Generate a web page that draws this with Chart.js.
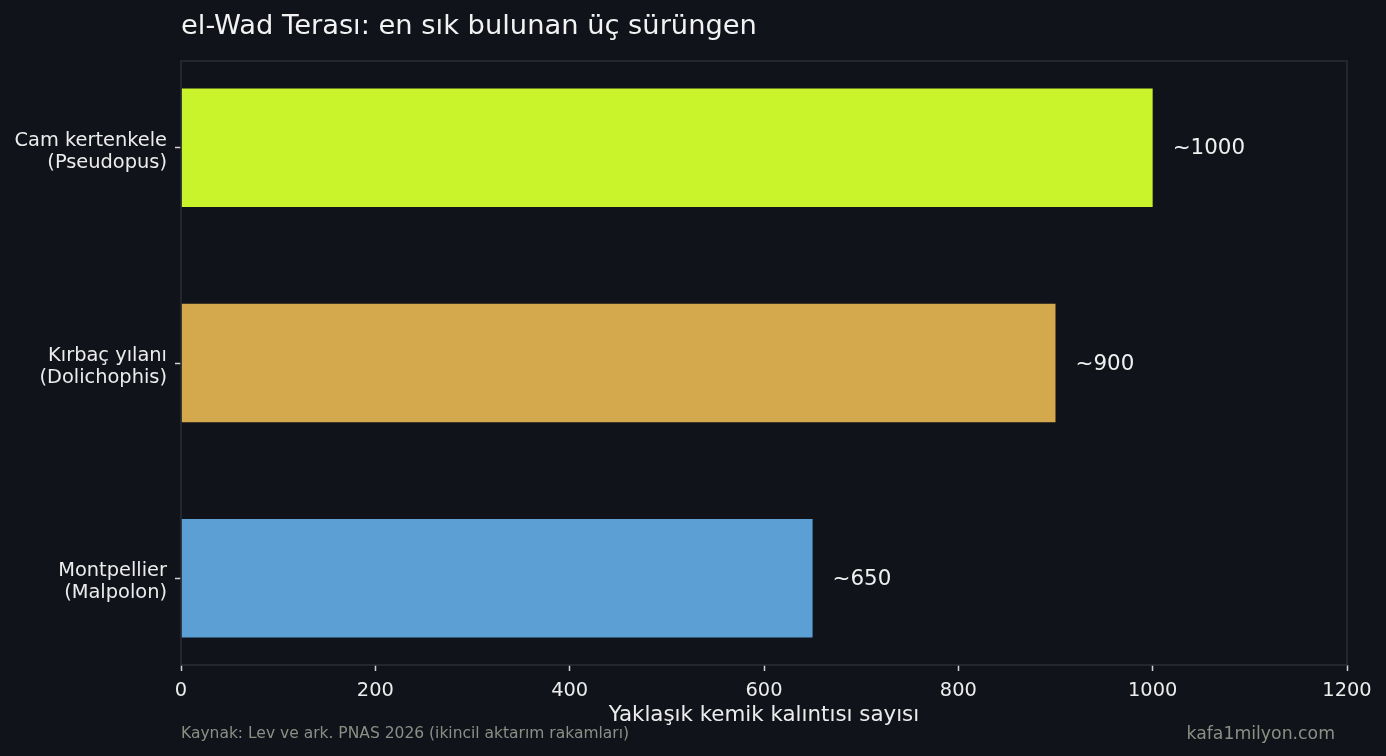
<!DOCTYPE html>
<html>
<head>
<meta charset="utf-8">
<script src="https://cdn.jsdelivr.net/npm/chart.js@4.4.1/dist/chart.umd.min.js"></script>
<style>
  html, body { margin: 0; padding: 0; background: #10131a; }
  canvas { display: block; }
</style>
</head>
<body>
<canvas id="chart" width="1386" height="756"></canvas>
<script>
/* ============================
   Data
   ============================ */
const categories = [
  ["Cam kertenkele", "(Pseudopus)"],
  ["Kırbaç yılanı", "(Dolichophis)"],
  ["Montpellier", "(Malpolon)"]
];
const counts = [1000, 900, 650];
const valueLabels = ["~1000", "~900", "~650"];
const xTicks = [0, 200, 400, 600, 800, 1000, 1200];

const titleText = "el-Wad Terası: en sık bulunan üç sürüngen";
const xTitle = "Yaklaşık kemik kalıntısı sayısı";
const sourceText = "Kaynak: Lev ve ark. PNAS 2026 (ikincil aktarım rakamları)";
const siteText = "kafa1milyon.com";

const barColors = ["#c9f32b", "#d4a84c", "#5b9fd4"];
const FONT = "'DejaVu Sans', sans-serif";

/* ============================
   Decorations: frame, labels, texts
   ============================ */
const decor = {
  id: "decor",
  beforeDraw(chart) {
    const c = chart.ctx;
    c.save();
    c.fillStyle = "#10131a";
    c.fillRect(0, 0, chart.width, chart.height);
    c.restore();
  },
  afterDatasetsDraw(chart) {
    const c = chart.ctx;
    const meta = chart.getDatasetMeta(0);
    c.save();
    c.font = "21.4px " + FONT;
    c.fillStyle = "#f0f0f0";
    c.textAlign = "left";
    c.textBaseline = "middle";
    meta.data.forEach((bar, i) => {
      c.fillText(valueLabels[i], bar.x + 20, bar.y + 1);
    });
    c.restore();
  },
  afterDraw(chart) {
    const c = chart.ctx;
    const a = chart.chartArea;
    c.save();
    c.strokeStyle = "#2a2e37";
    c.lineWidth = 1.5;
    c.strokeRect(a.left, a.top, a.right - a.left, a.bottom - a.top);

    c.textBaseline = "alphabetic";
    c.font = "27.3px " + FONT;
    c.fillStyle = "#f2f2f2";
    c.textAlign = "left";
    c.fillText(titleText, a.left, 34);

    c.font = "15.5px " + FONT;
    c.fillStyle = "#8b8f84";
    c.fillText(sourceText, a.left, 738);

    c.font = "17.3px " + FONT;
    c.textAlign = "right";
    c.fillText(siteText, 1335, 738.5);
    c.restore();
  }
};

new Chart(document.getElementById("chart"), {
  type: "bar",
  data: {
    datasets: [{
      data: counts.map((v, i) => ({ x: v, y: i })),
      backgroundColor: barColors,
      borderWidth: 0,
      categoryPercentage: 1,
      barPercentage: 0.55
    }]
  },
  options: {
    indexAxis: "y",
    responsive: false,
    devicePixelRatio: 1,
    animation: false,
    layout: { padding: { top: 61, right: 39, bottom: 0, left: 0 } },
    plugins: {
      legend: { display: false },
      tooltip: { enabled: false }
    },
    scales: {
      x: {
        type: "linear",
        min: 0,
        max: 1200,
        afterBuildTicks: s => { s.ticks = xTicks.map(v => ({ value: v })); },
        afterFit: s => { s.height = 91; },
        border: { display: false },
        grid: { drawOnChartArea: false, drawTicks: true, tickLength: 6, tickColor: "#d2d2d2", tickWidth: 1.5 },
        ticks: {
          color: "#ececec",
          font: { family: FONT, size: 19.4 },
          padding: 8,
          maxRotation: 0,
          callback: v => String(v)
        },
        title: {
          display: true,
          text: xTitle,
          color: "#ececec",
          font: { family: FONT, size: 21.4 },
          padding: { top: 0, bottom: 28 }
        }
      },
      y: {
        type: "linear",
        reverse: true,
        offset: false,
        min: -0.4025,
        max: 2.4025,
        afterBuildTicks: s => { s.ticks = categories.map((c, i) => ({ value: i })); },
        afterFit: s => { s.width = 181; },
        border: { display: false },
        grid: { offset: false, drawOnChartArea: false, drawTicks: true, tickLength: 6, tickColor: "#d2d2d2", tickWidth: 1.5 },
        ticks: {
          color: "#ececec",
          font: { family: FONT, size: 19.4, lineHeight: 1.13 },
          padding: 8,
          labelOffset: 4,
          callback: v => categories[v]
        }
      }
    }
  },
  plugins: [decor]
});
</script>
</body>
</html>
